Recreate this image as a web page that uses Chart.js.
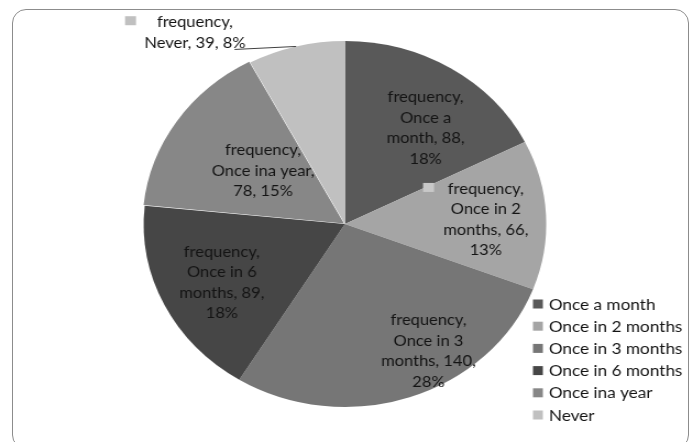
<!DOCTYPE html>
<html>
<head>
<meta charset="utf-8">
<script src="https://cdn.jsdelivr.net/npm/chart.js@4/dist/chart.umd.min.js"></script>
<style>
  html, body { margin: 0; padding: 0; background: #ffffff; overflow: hidden; }
  #wrap { position: relative; width: 694px; height: 442px; }
  #frame { position: absolute; left: 12px; top: 9px; width: 677px; height: 440px;
           border: 1px solid #8c8c8c; border-radius: 14px; box-sizing: border-box; }
  #c { position: absolute; left: 0; top: 0; transform: scaleX(1.1); transform-origin: 0 0; }
</style>
</head>
<body>
<div id="wrap">
  <div id="frame"></div>
  <canvas id="c" width="631" height="442"></canvas>
</div>
<script>
// ---- data ----
const seriesName = 'frequency';
const categories = ['Once a month', 'Once in 2 months', 'Once in 3 months', 'Once in 6 months', 'Once ina year', 'Never'];
const values = [88, 66, 140, 89, 78, 39];
const percentLabels = ['18%', '13%', '28%', '18%', '15%', '8%'];

// ---- styles ----
const sliceColors = ['#595959', '#a5a5a5', '#767676', '#464646', '#878787', '#c0c0c0'];
const textColor = '#141414';
const labelFont = '15px Lato';
const legendFont = '15.6px Lato';

// label placement: t = fraction along the slice angle, r = fraction of radius, w = wrap width
const labelPlacement = [
  { t: 0.59, r: 0.66, w: 80 },
  { t: 0.52, r: 0.70, w: 90, key: '#c8c8c8', keyGap: 12.5 },
  { t: 0.38, r: 0.81, w: 95 },
  { t: 0.48, r: 0.69, w: 90 },
  { t: 0.53, r: 0.50, w: 102 },
  { t: 0.50, r: 1.00, w: 100, outside: { lineDx: -56, lineDy: 3, textDx: -92, textDy: -14 }, key: '#c0c0c0', keyGap: 19 }
];

function wrapText(ctx, text, maxW) {
  const words = text.split(' ');
  const lines = [];
  let cur = '';
  for (const w of words) {
    const test = cur ? cur + ' ' + w : w;
    if (cur && ctx.measureText(test).width > maxW) { lines.push(cur); cur = w; }
    else cur = test;
  }
  if (cur) lines.push(cur);
  return lines;
}

const dataLabelPlugin = {
  id: 'dataLabelPlugin',
  afterDatasetsDraw(chart) {
    const ctx = chart.ctx;
    const meta = chart.getDatasetMeta(0);
    ctx.save();
    ctx.font = labelFont;
    ctx.fillStyle = textColor;
    ctx.textAlign = 'center';
    ctx.textBaseline = 'middle';
    const lh = 20.5;
    meta.data.forEach((arc, i) => {
      const p = labelPlacement[i];
      const a = arc.startAngle + (arc.endAngle - arc.startAngle) * p.t;
      const R = arc.outerRadius * p.r;
      let x = arc.x + Math.cos(a) * R;
      let y = arc.y + Math.sin(a) * R;
      const txt = seriesName + ', ' + categories[i] + ', ' + values[i] + ', ' + percentLabels[i];
      const lines = wrapText(ctx, txt, p.w);
      if (p.outside) {
        ctx.strokeStyle = '#404040';
        ctx.lineWidth = 1;
        ctx.beginPath();
        ctx.moveTo(x, y);
        ctx.lineTo(x + p.outside.lineDx, y + p.outside.lineDy);
        ctx.stroke();
        x += p.outside.textDx;
        y += p.outside.textDy;
      }
      const y0 = y - (lines.length - 1) * lh / 2;
      lines.forEach((ln, k) => {
        ctx.fillText(ln, x, y0 + k * lh);
      });
      if (p.key) {
        const w0 = ctx.measureText(lines[0]).width;
        ctx.fillStyle = p.key;
        ctx.fillRect(x - w0 / 2 - p.keyGap - 10, y0 - 6, 10, 9);
        ctx.fillStyle = textColor;
      }
    });
    ctx.restore();
  }
};

const legendPlugin = {
  id: 'sideLegend',
  afterDraw(chart) {
    const ctx = chart.ctx;
    ctx.save();
    ctx.font = legendFont;
    ctx.textBaseline = 'middle';
    ctx.textAlign = 'left';
    const x0 = 484.5, yStart = 304, step = 22.2;
    categories.forEach((c, i) => {
      const y = yStart + i * step;
      ctx.fillStyle = sliceColors[i];
      ctx.fillRect(x0, y - 4.5, 9, 9);
      ctx.fillStyle = textColor;
      ctx.fillText(c, x0 + 14.5, y + 0.5);
    });
    ctx.restore();
  }
};

new Chart(document.getElementById('c'), {
  type: 'pie',
  data: {
    labels: categories,
    datasets: [{
      label: seriesName,
      data: values,
      backgroundColor: sliceColors,
      borderWidth: 0,
      offset: [0, 0, 0, 0, 4, 0]
    }]
  },
  options: {
    responsive: false,
    animation: false,
    devicePixelRatio: 1,
    layout: { padding: { left: 128.6, right: 631 - 498.6, top: 39, bottom: 442 - 409 } },
    plugins: {
      legend: { display: false },
      tooltip: { enabled: false },
      title: { display: false }
    }
  },
  plugins: [dataLabelPlugin, legendPlugin]
});
</script>
</body>
</html>
